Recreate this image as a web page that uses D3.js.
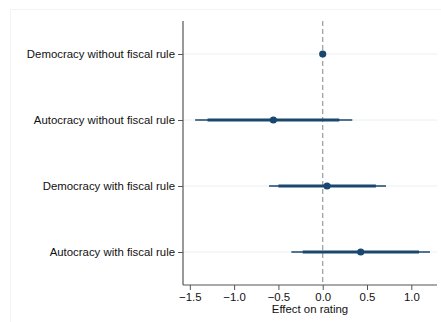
<!DOCTYPE html>
<html>
<head>
<meta charset="utf-8">
<script src="https://cdn.jsdelivr.net/npm/d3@7"></script>
<style>
  html, body { margin: 0; padding: 0; background: #fff; }
  svg { display: block; font-family: "Liberation Sans", Arial, sans-serif; }
</style>
</head>
<body>
<svg id="chart" width="441" height="322"></svg>
<script>
// Coefficient estimates with 90% (thick) and 95% (thin) confidence intervals
const categories = [
  "Democracy without fiscal rule",
  "Autocracy without fiscal rule",
  "Democracy with fiscal rule",
  "Autocracy with fiscal rule"
];
const estimates = [0, -0.557, 0.049, 0.429];
const ci90Low   = [0, -1.30, -0.50, -0.226];
const ci90High  = [0, 0.187, 0.60, 1.087];
const ci95Low   = [0, -1.44, -0.606, -0.354];
const ci95High  = [0, 0.334, 0.714, 1.211];
const xTicks = [-1.5, -1.0, -0.5, 0.0, 0.5, 1.0];
const xTitle = "Effect on rating";

const rows = categories.map((c, i) => ({
  name: c, est: estimates[i],
  lo90: ci90Low[i], hi90: ci90High[i],
  lo95: ci95Low[i], hi95: ci95High[i]
}));

const svg = d3.select("#chart");
const margin = { left: 183, right: 4, top: 21, bottom: 37 };
const W = 441, H = 322;
const plotW = W - margin.left - margin.right;
const plotH = H - margin.top - margin.bottom;
const fontSize = 11.4;

// faint outer graph region frame
svg.append("rect")
  .attr("x", 10.5).attr("y", 9.5)
  .attr("width", W - 10).attr("height", H - 9)
  .attr("fill", "none").attr("stroke", "#f2f5f6").attr("stroke-width", 1);

const x = d3.scaleLinear().domain([-1.577, 1.29]).range([0, plotW]);
const y = d3.scalePoint().domain(categories).range([0, plotH]).padding(0.5);

const g = svg.append("g").attr("transform", `translate(${margin.left},${margin.top})`);

// horizontal guides at each category
g.selectAll("line.grid").data(categories).join("line")
  .attr("class", "grid")
  .attr("x1", 0).attr("x2", plotW)
  .attr("y1", d => y(d)).attr("y2", d => y(d))
  .attr("stroke", "#e8f0f2").attr("stroke-width", 1);

// reference line at zero
g.append("line")
  .attr("x1", x(0)).attr("x2", x(0))
  .attr("y1", 0).attr("y2", plotH)
  .attr("stroke", "#999").attr("stroke-width", 1.2)
  .attr("stroke-dasharray", "5,3");

const navy = "#1a476f";

// 95% intervals
g.selectAll("line.ci95").data(rows).join("line")
  .attr("class", "ci95")
  .attr("x1", d => x(d.lo95)).attr("x2", d => x(d.hi95))
  .attr("y1", d => y(d.name)).attr("y2", d => y(d.name))
  .attr("stroke", navy).attr("stroke-width", 1.3);

// 90% intervals
g.selectAll("line.ci90").data(rows).join("line")
  .attr("class", "ci90")
  .attr("x1", d => x(d.lo90)).attr("x2", d => x(d.hi90))
  .attr("y1", d => y(d.name)).attr("y2", d => y(d.name))
  .attr("stroke", navy).attr("stroke-width", 2.8);

// point estimates
g.selectAll("circle.pt").data(rows).join("circle")
  .attr("class", "pt")
  .attr("cx", d => x(d.est)).attr("cy", d => y(d.name))
  .attr("r", 3.6).attr("fill", navy);

// axes
const axisColor = "#555";
const yAxis = g.append("g").call(d3.axisLeft(y).tickSize(5).tickPadding(3));
const xAxis = g.append("g").attr("transform", `translate(0,${plotH})`)
  .call(d3.axisBottom(x).tickValues(xTicks).tickFormat(d3.format(".1f")).tickSize(5).tickPadding(3));

[yAxis, xAxis].forEach(a => {
  a.select(".domain").attr("stroke", axisColor).attr("stroke-width", 1.2);
  a.selectAll(".tick line").attr("stroke", axisColor);
  a.selectAll(".tick text").attr("fill", "#111").attr("font-size", fontSize)
    .attr("font-family", "Liberation Sans, Arial, sans-serif");
});
// keep domain end caps off
yAxis.select(".domain").attr("d", `M0,0V${plotH}`);
xAxis.select(".domain").attr("d", `M0,0H${plotW}`);

g.append("text")
  .attr("x", plotW / 2).attr("y", plotH + 28)
  .attr("text-anchor", "middle")
  .attr("font-size", fontSize).attr("fill", "#111")
  .text(xTitle);
</script>
</body>
</html>
